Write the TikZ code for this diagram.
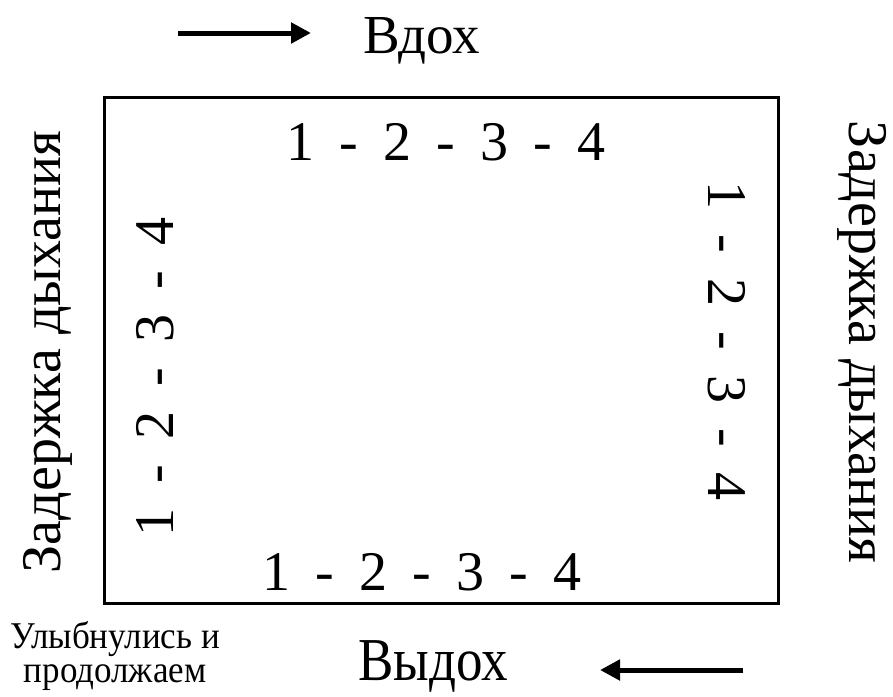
\documentclass[tikz,border=0pt]{standalone}
\usepackage{fontspec}
\setmainfont{Liberation Serif}
\newfontfamily\numfont{Liberation Serif}[WordSpace=1.8]
\usetikzlibrary{arrows.meta}
\begin{document}
\begin{tikzpicture}[x=1pt,y=-1pt,
  big/.style={font=\fontsize{55}{62}\selectfont, inner sep=0pt},
  side/.style={font=\fontsize{56}{62}\selectfont, inner sep=0pt},
  nums/.style={font=\numfont\fontsize{56}{60}\selectfont, inner sep=0pt},
  small/.style={font=\fontsize{35}{31.5}\selectfont, inner sep=0pt},
  arr/.style={line width=5pt, -{Triangle[length=20pt,width=20pt]}}]
\useasboundingbox (0,0) rectangle (893,696);
\node[draw, line width=3pt, minimum width=674pt, minimum height=506pt, inner sep=0pt] (box) at (441,350) {};
% top
\node[big, anchor=base west] (in) at (363,53) {Вдох};
\coordinate (a1s) at (178,33);
\coordinate (a1e) at (311,33);
\draw[arr] (a1s) -- (a1e);
% numbers
\node[nums] (ntop) at (446,142) {1 - 2 - 3 - 4};
\node[nums] (nbot) at (422,572) {1 - 2 - 3 - 4};
\node[nums, rotate=90] (nleft) at (155,377) {1 - 2 - 3 - 4};
\node[nums, rotate=-90] (nright) at (727,341) {1 - 2 - 3 - 4};
% side labels
\node[side, rotate=90] (lleft) at (48,352) {Задержка дыхания};
\node[side, rotate=-90] (lright) at (862,342) {Задержка дыхания};
% bottom
\node[big, font=\fontsize{53}{60}\selectfont, anchor=base west] (out) at (358,680) {\scalebox{1}[1.15]{Выдох}};
\coordinate (a2s) at (743,670);
\coordinate (a2e) at (600,670);
\draw[arr] (a2s) -- (a2e);
\node[small, anchor=base] (smile) at (115,648) {\scalebox{1}[1.08]{\begin{tabular}[t]{@{}c@{}}Улыбнулись и\\продолжаем\end{tabular}}};
\end{tikzpicture}
\end{document}
